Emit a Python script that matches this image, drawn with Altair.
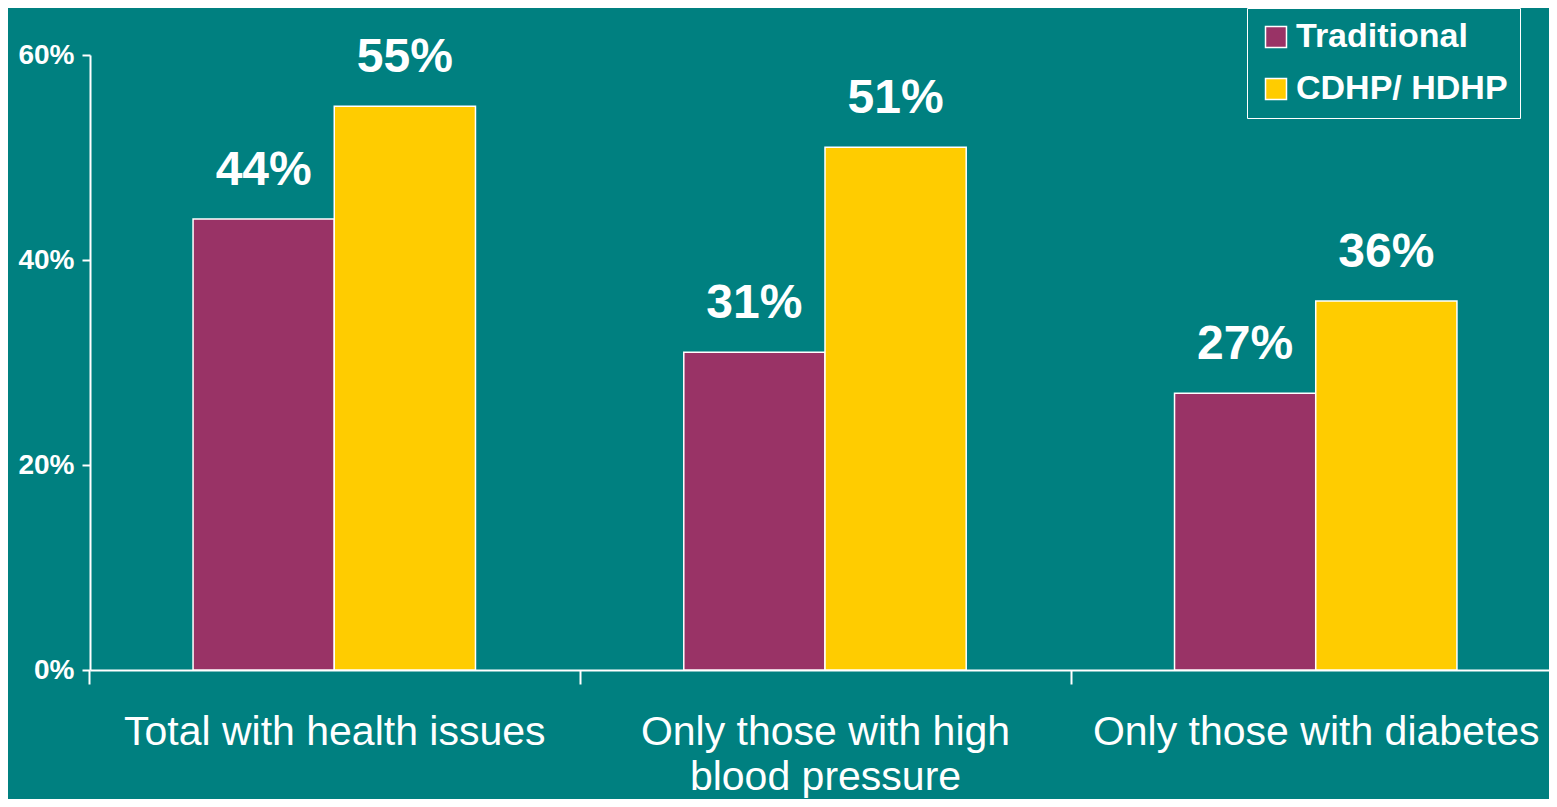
import altair as alt
import pandas as pd

categories = ["Total with health issues", "Only those with high blood pressure", "Only those with diabetes"]
category_lines = {"Only those with high blood pressure": ["Only those with high", "blood pressure"]}
plans = ["Traditional", "CDHP/ HDHP"]
traditional = [0.44, 0.31, 0.27]
cdhp = [0.55, 0.51, 0.36]
y_ticks = [0, 0.2, 0.4, 0.6]

rows = []
for c, t, h in zip(categories, traditional, cdhp):
    rows.append({"category": c, "plan": plans[0], "value": t})
    rows.append({"category": c, "plan": plans[1], "value": h})
df = pd.DataFrame(rows)

expr = "datum.value"
for k, v in category_lines.items():
    arr = "[" + ",".join("'" + s + "'" for s in v) + "]"
    expr = f"datum.value == '{k}' ? {arr} : {expr}"

FONT = "Liberation Sans"
BG = "#008080"

x = alt.X(
    "category:N",
    sort=categories,
    scale=alt.Scale(range=[0, 1470], paddingInner=0.4245, paddingOuter=0.21),
    axis=alt.Axis(
        title=None,
        labelAngle=0,
        labelExpr=expr,
        labelFont=FONT,
        labelFontSize=41,
        labelColor="white",
        labelBaseline="alphabetic",
        labelLineHeight=45,
        labelPadding=60,
        labelLimit=600,
        tickOffset=-245,
        labelOffset=245,
        tickSize=14,
        tickColor="white",
        tickWidth=2,
        domainColor="white",
        domainWidth=2,
    ),
)
y = alt.Y(
    "value:Q",
    scale=alt.Scale(domain=[0, 0.6]),
    axis=alt.Axis(
        title=None,
        values=y_ticks,
        format=".0%",
        grid=False,
        labelFont=FONT,
        labelFontSize=28,
        labelFontWeight="bold",
        labelColor="white",
        labelPadding=8,
        tickSize=8,
        tickColor="white",
        tickWidth=2,
        domainColor="white",
        domainWidth=2,
    ),
)
xoff = alt.XOffset("plan:N", sort=plans, scale=alt.Scale(domain=plans))
color = alt.Color(
    "plan:N",
    scale=alt.Scale(domain=plans, range=["#993366", "#FFCC00"]),
    legend=alt.Legend(
        title=None,
        orient="none",
        legendX=1157,
        legendY=-47,
        direction="vertical",
        strokeColor="white",
        padding=12,
        symbolType="square",
        symbolSize=440,
        symbolStrokeColor="white",
        symbolStrokeWidth=1.5,
        symbolOpacity=1,
        labelFont=FONT,
        labelFontSize=34,
        labelFontWeight="bold",
        labelColor="white",
        labelOffset=3,
        labelLimit=500,
        rowPadding=18,
        labelExpr="datum.label + '\u00a0'",
    ),
)

bars = alt.Chart(df).mark_bar(stroke="white", strokeWidth=1.5).encode(
    x=x, xOffset=xoff, y=y, color=color
)
labels = alt.Chart(df).mark_text(
    font=FONT, fontSize=48, fontWeight="bold", color="white", baseline="alphabetic", dy=-34
).encode(
    x=alt.X("category:N", sort=categories),
    xOffset=alt.XOffset("plan:N", sort=plans),
    y="value:Q",
    text=alt.Text("value:Q", format=".0%"),
)

chart = (
    alt.layer(bars, labels)
    .properties(
        width=1459,
        height=615,
        autosize=alt.AutoSizeParams(type="none"),
        padding={"left": 82, "top": 47, "right": 0, "bottom": 129},
        background=BG,
    )
    .configure_view(stroke=None)
)

chart.save("out.html", embed_options={"renderer": "svg", "actions": False})
